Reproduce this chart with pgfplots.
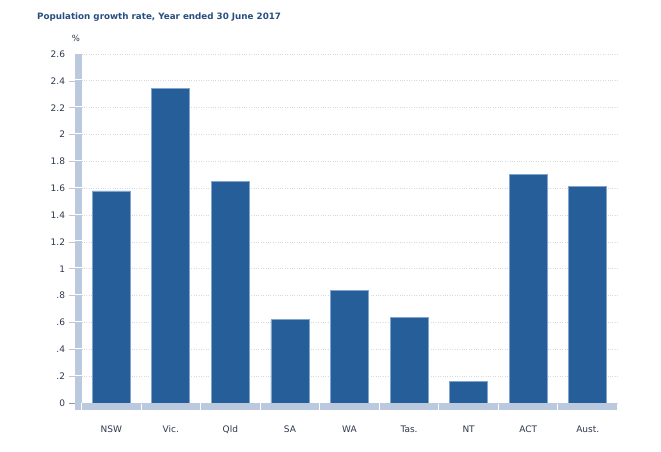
\documentclass[border=0pt]{standalone}
\usepackage{pgfplots}
\pgfplotsset{compat=1.18}
\usepackage{fontspec}
\setmainfont{DejaVu Sans}
\definecolor{barblue}{RGB}{38,94,154}
\definecolor{baredge}{RGB}{130,165,205}
\definecolor{band}{RGB}{186,201,222}
\definecolor{titleblue}{RGB}{38,78,128}
\definecolor{lbl}{RGB}{45,55,75}
\begin{document}
\begin{tikzpicture}[x=1bp,y=1bp]
\path[use as bounding box] (0,0) rectangle (661,452);
\node[anchor=west, text=titleblue, font=\fontsize{8.75bp}{10bp}\selectfont\bfseries, inner sep=0pt] at (37,435) {Population growth rate, Year ended 30 June 2017};
\node[text=lbl, font=\fontsize{8.5bp}{9bp}\selectfont, inner sep=0pt] at (76,414) {\%};
\begin{axis}[
  at={(81.5bp,49bp)}, anchor=south west,
  scale only axis, width=536bp, height=349bp,
  xmin=-0.5, xmax=8.5, ymin=0, ymax=2.6,
  axis line style={draw=none},
  major tick length=0pt,
  xtick={0,1,2,3,4,5,6,7,8},
  xticklabels={NSW,Vic.,Qld,SA,WA,Tas.,NT,ACT,Aust.},
  ytick={0,0.2,0.4,0.6,0.8,1,1.2,1.4,1.6,1.8,2,2.2,2.4,2.6},
  yticklabels={0,.2,.4,.6,.8,1,1.2,1.4,1.6,1.8,2,2.2,2.4,2.6},
  ticklabel style={text=lbl, font=\fontsize{9bp}{10bp}\selectfont},
  yticklabel style={xshift=-13bp},
  xticklabel style={yshift=-19bp},
  ymajorgrids, grid style={dotted, color=gray!30, line width=0.7bp},
  clip=false,
]
\addplot[ybar, bar width=38bp, fill=barblue, draw=baredge, line width=0.8bp] coordinates {
(0,1.58) (1,2.34) (2,1.65) (3,0.62) (4,0.84) (5,0.64) (6,0.16) (7,1.70) (8,1.61)};
% left band
\fill[band] ([xshift=-6.5bp]axis cs:-0.5,0) rectangle (axis cs:-0.5,2.6);
\pgfplotsinvokeforeach{0.2,0.4,0.6,0.8,1,1.2,1.4,1.6,1.8,2,2.2,2.4}{
  \draw[white, line width=0.9bp] ([xshift=-7bp,yshift=1bp]axis cs:-0.5,#1) -- ([yshift=1bp]axis cs:-0.5,#1);
  \draw[gray!45, line width=0.6bp] ([xshift=-13bp]axis cs:-0.5,#1) -- ([xshift=-6.5bp]axis cs:-0.5,#1);
}
\draw[gray!80, line width=0.7bp] ([xshift=-13bp]axis cs:-0.5,0) -- ([xshift=-6.5bp]axis cs:-0.5,0);
% bottom band
\fill[band] ([xshift=-6.5bp]axis cs:-0.5,0) rectangle ([xshift=-0.5bp,yshift=-7bp]axis cs:-0.5,0);
\pgfplotsinvokeforeach{0,1,2,3,4,5,6,7,8}{
  \fill[band] ([xshift=0.5bp]axis cs:#1-0.5,0) rectangle ([xshift=-0.5bp,yshift=-7bp]axis cs:#1+0.5,0);
}
\end{axis}
\end{tikzpicture}
\end{document}
